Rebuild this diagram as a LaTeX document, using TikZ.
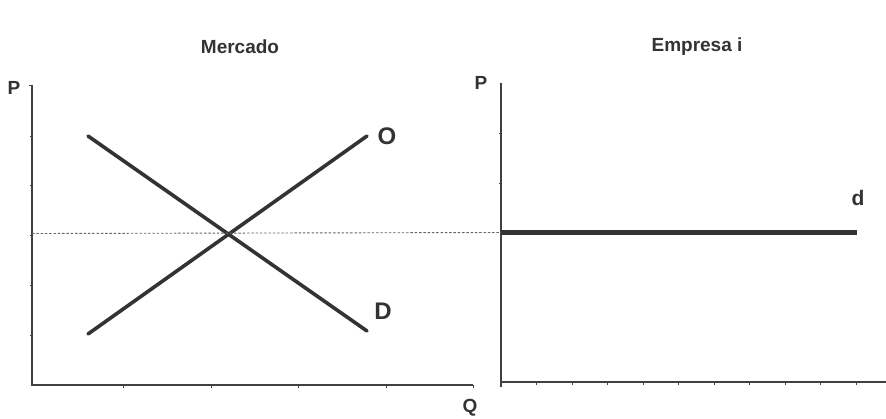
\documentclass[tikz,border=0pt]{standalone}
\usepackage{fontspec}
\setmainfont{Liberation Sans}
\begin{document}
\begin{tikzpicture}[x=1pt,y=-1pt,
  axis/.style={draw=black!75,line width=1.4pt},
  curve/.style={draw=black!80,line width=3.6pt,line cap=round},
  flat/.style={draw=black!80,line width=4.2pt},
  guide/.style={draw=black!60,line width=0.9pt,dash pattern=on 2.5pt off 1.8pt},
  tickmark/.style={draw=black!75,line width=1pt},
  ttl/.style={font=\bfseries\fontsize{19}{22}\selectfont,text=black!80,inner sep=0pt},
  lbl/.style={font=\bfseries\fontsize{19}{22}\selectfont,text=black!80,inner sep=0pt},
  biglbl/.style={font=\bfseries\fontsize{24}{27}\selectfont,text=black!80,inner sep=0pt}]
\useasboundingbox (0,0) rectangle (886,418);
% titles
\node[ttl] (t1) at (240,47) {Mercado};
\node[ttl] (t2) at (697,47) {Empresa i};
% left axes
\coordinate (lO) at (32,385);
\coordinate (lTop) at (32,85);
\coordinate (lEnd) at (473,385);
\draw[axis] (lTop) -- (lO) -- (lEnd);
\draw[tickmark] (lTop) -- ++(-3,0);
\foreach \yy in {136,185,235,285,335} \draw[tickmark] (32,\yy) -- ++(-2.5,0);
\foreach \xx in {123,211,298,386,473} \draw[tickmark] (\xx,385) -- ++(0,3);
\node[lbl] (p1) at (14,88) {P};
\node[lbl] (q) at (470,408) {Q};
% right axes
\coordinate (rO) at (501,382);
\coordinate (rTop) at (501,83);
\coordinate (rEnd) at (886,382);
\draw[axis] (rTop) -- (rO) -- (rEnd);
\draw[axis] (rO) -- ++(0,5);
\foreach \yy in {133,183} \draw[tickmark] (501,\yy) -- ++(-2.5,0);
\foreach \xx in {536.5,572,607.5,643,678.5,714,749.5,785,820.5,856} \draw[tickmark] (\xx,382) -- ++(0,3);
\node[lbl] (p2) at (481,83) {P};
% curves
\coordinate (s1) at (88,334);
\coordinate (s2) at (367,136);
\coordinate (d1) at (88,136);
\coordinate (d2) at (367,331);
\coordinate (eq) at (228,234);
\draw[curve] (s1) -- (s2);
\draw[curve] (d1) -- (d2);
\node[biglbl] (O) at (387,136) {O};
\node[biglbl] (D) at (383,311) {D};
% guide and firm demand
\coordinate (g1) at (32,233.5);
\coordinate (g2) at (501,232.5);
\draw[guide] (g1) -- (g2);
\coordinate (f2) at (857,232.5);
\draw[flat] (g2) -- (f2);
\node[font=\bfseries\fontsize{21}{24}\selectfont,text=black!80,inner sep=0pt] (dd) at (858,198) {d};
\end{tikzpicture}
\end{document}
